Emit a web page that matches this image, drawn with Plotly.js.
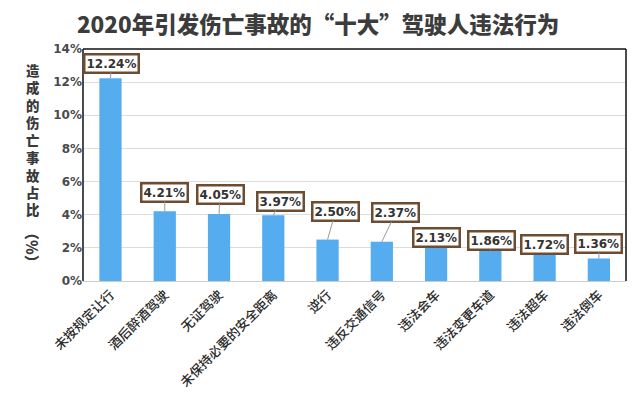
<!DOCTYPE html>
<html>
<head>
<meta charset="utf-8">
<script src="https://cdn.plot.ly/plotly-3.0.1.min.js"></script>
<style>html,body{margin:0;padding:0;background:#fff;}#chart{width:640px;height:393px;}</style>
</head>
<body>
<div id="chart"></div>
<script>
// Data
const categories = ['未按规定让行','酒后醉酒驾驶','无证驾驶','未保持必要的安全距离','逆行','违反交通信号','违法会车','违法变更车道','违法超车','违法倒车'];
const shares = [12.24, 4.21, 4.05, 3.97, 2.50, 2.37, 2.13, 1.86, 1.72, 1.36];
const tickVals = [0, 2, 4, 6, 8, 10, 12, 14];
const tickLabels = ['0%','2%','4%','6%','8%','10%','12%','14%'];
const titleText = '2020年引发伤亡事故的“十大”驾驶人违法行为';
const yTitleChars = ['造','成','的','伤','亡','事','故','占','比'];
const yTitleUnit = '（%）';

// Label placement (pixel offsets of label boxes from bar tops)
const labelDx = [1, 0, 1, 7, 8, 14, 0, 1, 0, 0];
const labelDy = [-15, -19, -19, -14, -28, -29, -8, -10, -8, -15];

const font = '"Noto Sans CJK SC", "Noto Sans", sans-serif';

const annotations = shares.map((v, i) => ({
  x: categories[i], y: v, xref: 'x', yref: 'y',
  text: '<b>' + v.toFixed(2) + '%</b>',
  showarrow: true, arrowhead: 0, arrowwidth: 1, arrowcolor: '#9a9a9a',
  ax: labelDx[i], ay: labelDy[i],
  bgcolor: '#ffffff', bordercolor: '#6e4c2f', borderwidth: 2.5, borderpad: 1,
  font: {family: 'DejaVu Sans, sans-serif', size: 12, color: '#333333'}
}));

// vertical (stacked) y-axis title
const plotTop = 49, plotBottom = 281, plotH = plotBottom - plotTop;
annotations.push({
  x: 0, xref: 'paper', xanchor: 'center', xshift: -50,
  y: (plotBottom - 139) / plotH, yref: 'paper', yanchor: 'middle',
  text: yTitleChars.join('<br>'), showarrow: false,
  font: {family: font, size: 13.4, color: '#3a3a3a', weight: 900}
});
annotations.push({
  x: 0, xref: 'paper', xanchor: 'center', xshift: -50,
  y: (plotBottom - 247) / plotH, yref: 'paper', yanchor: 'middle',
  text: yTitleUnit, showarrow: false, textangle: 90,
  font: {family: font, size: 15, color: '#3a3a3a', weight: 900}
});

const trace = {
  type: 'bar', x: categories, y: shares,
  marker: {color: '#55adf0'},
  hoverinfo: 'none'
};

const layout = {
  width: 640, height: 393,
  margin: {l: 83, r: 14, t: 49, b: 112},
  paper_bgcolor: '#ffffff', plot_bgcolor: '#ffffff',
  bargap: 0.59,
  showlegend: false,
  title: {
    text: titleText,
    x: 0.497, xanchor: 'center', y: 0.935, yanchor: 'middle',
    font: {family: font, size: 22.5, color: '#3c3c3c', weight: 900}
  },
  xaxis: {
    type: 'category', tickangle: -45,
    showline: true, linecolor: '#cccccc', linewidth: 1,
    showgrid: false, ticks: '',
    tickfont: {family: font, size: 13, color: '#2a2a2a', weight: 500}
  },
  yaxis: {
    range: [0, 14], tickvals: tickVals, ticktext: tickLabels,
    showgrid: true, gridcolor: '#dcdcdc', gridwidth: 1,
    zeroline: false, showline: false, ticks: '',
    tickfont: {family: 'DejaVu Sans, sans-serif', size: 12, color: '#4a4a4a', weight: 'bold'}
  },
  shapes: [
    {type: 'line', xref: 'paper', yref: 'paper', x0: 0, x1: 1, y0: 1, y1: 1, line: {color: '#111', width: 1.5}},
    {type: 'line', xref: 'paper', yref: 'paper', x0: 0, x1: 0, y0: 0, y1: 1, line: {color: '#111', width: 1.5}},
    {type: 'line', xref: 'paper', yref: 'paper', x0: 1, x1: 1, y0: 0, y1: 1, line: {color: '#111', width: 1.5}}
  ],
  annotations: annotations
};

Plotly.newPlot('chart', [trace], layout, {displayModeBar: false, staticPlot: true});
</script>
</body>
</html>
